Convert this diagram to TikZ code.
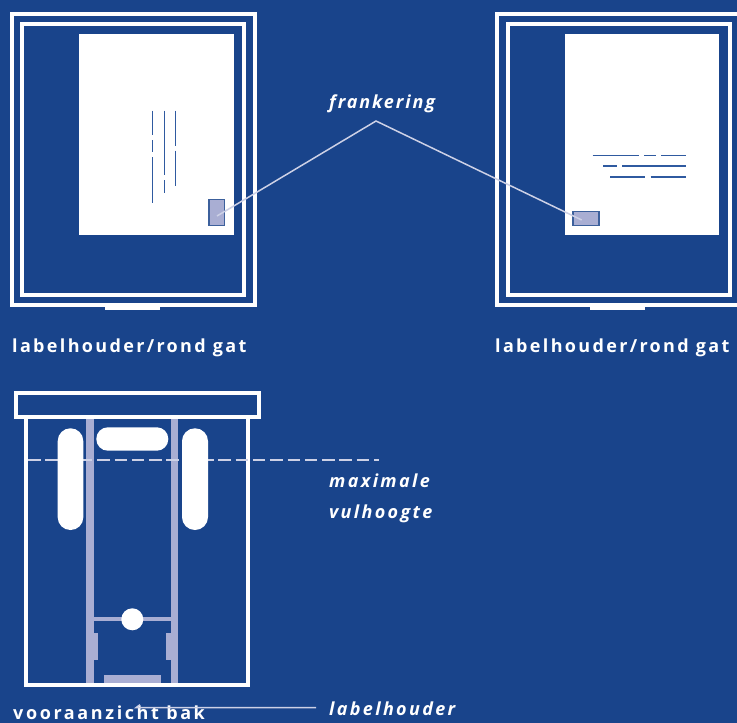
\documentclass[tikz,border=0pt]{standalone}
\usepackage{fontspec}
\setmainfont{Open Sans}
\newfontfamily\lblfont[LetterSpace=13]{Open Sans}
\newfontfamily\frankfont[LetterSpace=10.5]{Open Sans}
\newfontfamily\bakfont[LetterSpace=14.5]{Open Sans}
\definecolor{bgblue}{HTML}{19448B}
\definecolor{lav}{HTML}{A9AED3}
\definecolor{inkline}{HTML}{2F5AA0}
\definecolor{dashc}{HTML}{CDD1E6}
\tikzset{
  frame/.style={draw=white,line width=4pt,fill=none},
  whitefill/.style={fill=white,draw=none},
  lavfill/.style={fill=lav,draw=none},
  stampbox/.style={fill=lav,draw=bgblue!85!white,line width=1.2pt},
  textline/.style={draw=inkline,line width=1.4pt},
  leader/.style={draw=dashc,line width=1.5pt},
  caption/.style={text=white,inner sep=0pt,anchor=base west,font=\lblfont\bfseries\fontsize{18}{22}\selectfont},
  slanted/.style={text=white,inner sep=0pt,anchor=base west,font=\lblfont\bfseries\itshape\fontsize{18}{22}\selectfont},
}
\begin{document}
\begin{tikzpicture}[x=1pt,y=-1pt]
\useasboundingbox (0,0) rectangle (737,723);
\fill[bgblue] (0,0) rectangle (737,723);
% left holder
\draw[frame] (11.7,13.8) rectangle (254.7,305.2);
\draw[frame] (22.3,24.3) rectangle (244.3,295);
\fill[whitefill] (105,306) rectangle (160,310.3);
\fill[whitefill] (79.3,34.3) rectangle (234,235.3);
\draw[textline] (152.7,110.7)--(152.7,135) (152.7,140)--(152.7,151.7) (152.7,157.3)--(152.7,203);
\draw[textline] (164.7,110.7)--(164.7,175) (164.7,180)--(164.7,192.7);
\draw[textline] (175.3,110.7)--(175.3,145.7) (175.3,150.7)--(175.3,185.7);
\node[stampbox,minimum width=15.5pt,minimum height=26pt,inner sep=0pt] (stampL) at (216.7,212.6) {};
% right holder
\draw[frame] (497,13.8) rectangle (740,305.2);
\draw[frame] (507.7,24.3) rectangle (729.5,295);
\fill[whitefill] (590,306) rectangle (645.3,310.3);
\fill[whitefill] (564.7,34.3) rectangle (719.3,235.3);
\draw[textline] (592.7,155.3)--(638.7,155.3) (644,155.3)--(656,155.3) (661.3,155.3)--(685.7,155.3);
\draw[textline] (603.3,166)--(617.3,166) (622.3,166)--(685.7,166);
\draw[textline] (610,177)--(645.3,177) (650.7,177)--(685.7,177);
\node[stampbox,minimum width=26pt,minimum height=14.2pt,inner sep=0pt] (stampR) at (586,218.7) {};
% frankering leader
\coordinate (apex) at (376,121);
\coordinate (endL) at (217,216);
\coordinate (endR) at (581.7,220);
\draw[leader] (endL)--(apex)--(endR);
\node[slanted,font=\frankfont\bfseries\itshape\fontsize{18}{22}\selectfont] (frank) at (329,108) {frankering};
\node[caption] (capL) at (12,352.5) {labelhouder/rond gat};
\node[caption] (capR) at (495,352.5) {labelhouder/rond gat};
% bin
\fill[lavfill] (86.3,419) rectangle (94.3,684);
\fill[lavfill] (171,419) rectangle (177.5,684);
\fill[lavfill] (94,617.3) rectangle (171,621.3);
\fill[lavfill] (94,633.3) rectangle (98.3,660);
\fill[lavfill] (165.7,633.3) rectangle (171,660);
\fill[lavfill] (103.7,675) rectangle (161.3,684);
\draw[frame] (26.3,417) -- (26.3,684.7) -- (248.3,684.7) -- (248.3,417);
\draw[frame] (15.7,392.7) rectangle (258.7,417);
\coordinate (dashA) at (28,460);
\coordinate (dashB) at (379,460);
\draw[draw=dashc,line width=1.4pt,dash pattern=on 12.5pt off 4.8pt] (dashA)--(dashB);
\fill[whitefill,rounded corners=12.7pt] (57.7,428.3) rectangle (83.3,530);
\fill[whitefill,rounded corners=12.9pt] (182,428.3) rectangle (208,530);
\fill[whitefill,rounded corners=11.5pt] (96.3,427.3) rectangle (168.3,450.7);
\fill[whitefill] (132.3,619.3) circle (11);
\node[slanted] (maxi) at (329,487.5) {maximale};
\node[slanted] (vul) at (329,518) {vulhoogte};
\node[caption,font=\bakfont\bfseries\fontsize{18}{22}\selectfont] (capB) at (13,719) {vooraanzicht bak};
\node[slanted] (lh) at (329,715) {labelhouder};
\coordinate (lhend) at (316,707.7);
\coordinate (lhstart) at (136,707.7);
\coordinate (lhtick) at (140,704.7);
\draw[leader] (lhtick)--(lhstart)--(lhend);
\end{tikzpicture}
\end{document}
